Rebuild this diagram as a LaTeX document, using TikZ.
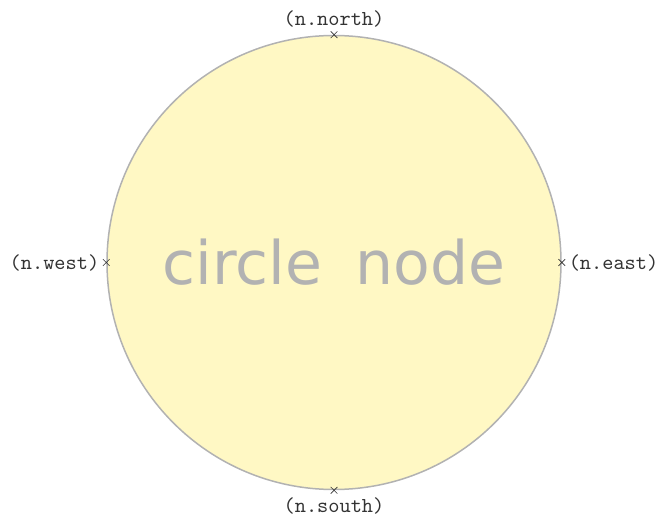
\documentclass[tikz,border=0pt]{standalone}
\usepackage{fontspec}
\newfontfamily\dejavu{DejaVu Sans}
\newfontfamily\ttten{lmmono10-regular.otf}
\usepackage{tikz}
\usetikzlibrary{shapes.misc}
\usepackage{xcolor}
\definecolor{Lemon}{HTML}{FFF8C4}
\definecolor{Rim}{HTML}{B2B2B2}
\definecolor{Ink}{HTML}{333333}

\begin{document}
\begin{tikzpicture}[x=1pt,y=1pt,
  bignode/.style={circle,draw=Rim,fill=Lemon,line width=1.5pt,minimum size=454pt,inner sep=0pt,
    text=Rim,font=\dejavu\fontsize{60}{60}\selectfont},
  anchormark/.style={cross out,draw=Ink,minimum size=6pt,inner sep=0pt,line width=0.7pt},
  anchorlbl/.style={font=\ttten\fontsize{21.3}{21.3}\selectfont,text=Ink,inner sep=3.5pt}]
\useasboundingbox (0,0) rectangle (661,520);
\node[bignode] (n) at (334,257.5) {circle\hspace{0.55em}node};
\node[anchormark,label={[anchorlbl]above:(n.north)}] (mN) at (n.north) {};
\node[anchormark,label={[anchorlbl]below:(n.south)}] (mS) at (n.south) {};
\node[anchormark,label={[anchorlbl]left:(n.west)}] (mW) at (n.west) {};
\node[anchormark,label={[anchorlbl]right:(n.east)}] (mE) at (n.east) {};
\end{tikzpicture}
\end{document}
